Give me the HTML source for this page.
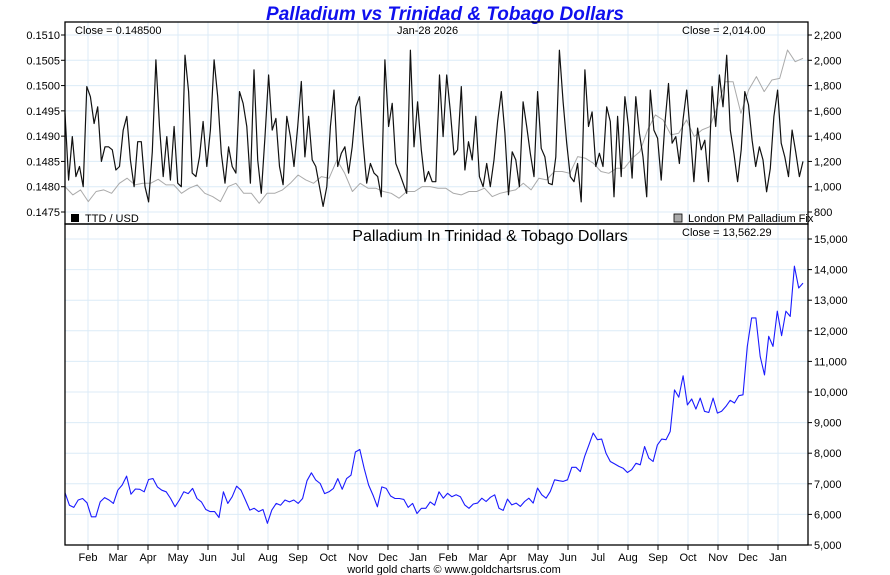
<!DOCTYPE html>
<html><head><meta charset="utf-8">
<style>
html,body{margin:0;padding:0;background:#fff;}
svg{display:block;font-family:"Liberation Sans",Arial,sans-serif;}
</style></head>
<body>
<svg id="chart" width="890" height="575" viewBox="0 0 890 575">
<text x="445" y="20" text-anchor="middle" font-size="19" font-weight="bold" font-style="italic" fill="#1010ee">Palladium vs Trinidad &amp; Tobago Dollars</text>
<g id="grid"></g>
<g id="series"></g>
<g id="axes"></g>
<text x="75" y="34" font-size="11" fill="#000">Close = 0.148500</text>
<text x="397" y="34" font-size="11" fill="#000">Jan-28  2026</text>
<text x="682" y="34" font-size="11" fill="#000">Close = 2,014.00</text>
<rect x="71" y="214" width="8" height="8" fill="#000"/>
<text x="85" y="222" font-size="11">TTD / USD</text>
<rect x="674" y="214" width="8" height="8" fill="#aaa" stroke="#000" stroke-width="0.8"/>
<text x="688" y="222" font-size="11">London PM Palladium Fix</text>
<text x="490" y="241" text-anchor="middle" font-size="16">Palladium In Trinidad &amp; Tobago Dollars</text>
<text x="682" y="236" font-size="11">Close = 13,562.29</text>
<text x="454" y="573" text-anchor="middle" font-size="11">world gold charts © www.goldchartsrus.com</text>
</svg>
<script>
const months = ["Feb","Mar","Apr","May","Jun","Jul","Aug","Sep","Oct","Nov","Dec","Jan","Feb","Mar","Apr","May","Jun","Jul","Aug","Sep","Oct","Nov","Dec","Jan"];
const ttdTicks = [0.1475,0.1480,0.1485,0.1490,0.1495,0.1500,0.1505,0.1510];
const pallTicks = [800,1000,1200,1400,1600,1800,2000,2200];
const lowerTicks = [5000,6000,7000,8000,9000,10000,11000,12000,13000,14000,15000];
const ttdValues = [0.14945,0.14813,0.14899,0.14820,0.14840,0.14800,0.14998,0.14978,0.14925,0.14958,0.14850,0.14879,0.14879,0.14873,0.14833,0.14840,0.14912,0.14939,0.14853,0.14800,0.14889,0.14889,0.14800,0.14770,0.14869,0.15051,0.14919,0.14820,0.14899,0.14813,0.14919,0.14807,0.14800,0.15060,0.14988,0.14827,0.14820,0.14859,0.14929,0.14840,0.14912,0.15051,0.14978,0.14866,0.14807,0.14879,0.14840,0.14827,0.14988,0.14965,0.14919,0.14807,0.15031,0.14853,0.14787,0.14899,0.15021,0.14912,0.14935,0.14840,0.14804,0.14939,0.14899,0.14840,0.14919,0.15008,0.14859,0.14939,0.14853,0.14840,0.14800,0.14761,0.14800,0.14919,0.14991,0.14840,0.14866,0.14879,0.14827,0.14879,0.14958,0.14978,0.14886,0.14807,0.14846,0.14827,0.14820,0.14780,0.15051,0.14919,0.14965,0.14846,0.14827,0.14807,0.14787,0.15070,0.14879,0.14968,0.14873,0.14810,0.14830,0.14810,
0.14810,0.15021,0.14899,0.15021,0.14948,0.14863,0.14873,0.14998,0.14833,0.14889,0.14853,0.14939,0.14820,0.14800,0.14846,0.14800,0.14853,0.14929,0.14988,0.14906,0.14784,0.14869,0.14853,0.14800,0.14968,0.14919,0.14866,0.14820,0.14988,0.14876,0.14859,0.14807,0.14804,0.14859,0.15070,0.14968,0.14886,0.14820,0.14810,0.14846,0.14770,0.15031,0.14919,0.14948,0.14840,0.14866,0.14840,0.14958,0.14929,0.14780,0.14939,0.14820,0.14978,0.14919,0.14817,0.14978,0.14906,0.14859,0.14780,0.14991,0.14912,0.14896,0.14813,0.14925,0.15004,0.14886,0.14899,0.14846,0.14932,0.14991,0.14906,0.14810,0.14916,0.14873,0.14892,0.14810,0.14998,0.14919,0.15021,0.14958,0.15060,0.14912,0.14866,0.14810,0.14873,0.14988,0.14962,0.14892,0.14840,0.14879,0.14853,0.14790,0.14836,0.14939,0.14991,0.14886,0.14859,0.14820,0.14912,0.14869,0.14820,0.14850];
const pallValues = [1001,935,975,882,962,975,948,1027,1067,1014,1027,1027,1059,1014,1014,948,988,1014,948,922,882,1001,1027,948,948,869,948,948,975,1027,1093,1054,1027,1080,1067,1212,1106,962,1027,988,988,962,948,909,962,962,1001,
1001,988,988,948,935,962,962,988,922,948,962,975,1027,975,1067,1054,1120,1120,1106,1238,1225,1186,1120,1106,1146,1146,1225,1278,1449,1568,1528,1410,1423,1528,1396,1449,1475,1634,1831,1831,1581,1765,1871,1752,1844,1857,2081,1989,2016];
const lowerYear1 = [6710,6300,6230,6470,6520,6380,5920,5920,6410,6550,6470,6360,6790,6960,7250,6660,6830,6820,6740,7140,7170,6900,6790,6740,6520,6250,6470,6740,6680,6850,6520,6410,6160,6090,6090,5900,6740,6360,6580,6920,6790,6470,6140,6200,6090,6160,5710,6140,6360,6300,6470,6410,6470,6360,6520,7100,7360,7120,7010,6680,6740,6850,7170,6820,7170,7280,8040,8120,7500,6960,6630,6250,6900,6850,6600,6520,6520,6490,6230,6360,6030,6200,6200,6410,6300,6740];
const lowerYear2 = [6530,6690,6580,6640,6580,6310,6200,6340,6370,6530,6420,6560,6640,6200,6130,6500,6310,6370,6260,6420,6530,6370,6860,6640,6530,6750,7130,7100,7080,7130,7540,7540,7400,7890,8270,8660,8440,8460,8000,7730,7650,7570,7510,7370,7460,7670,7620,8220,7840,7730,8270,8460,8440,8710,10070,9830,10530,9580,9770,9440,9800,9370,9330,9800,9310,9370,9530,9730,9640,9880,9910,11490,12420,12420,11160,10560,11820,11490,12640,11840,12640,12470,14110,13400,13560];

const NS='http://www.w3.org/2000/svg';
const L=65,R=808,T=22,MID=224,B=545,X0=65,X1=803,XSPLIT=439;
const yTop=v=>35+(0.1510-v)/0.0035*177;
const yPall=v=>35+(2200-v)/1400*177;
const yLow=v=>239+(15000-v)/10000*306;
const xIdx=(i,n,a,b)=>a+i*(b-a)/(n-1);
const xMonth=i=>88+i*30;
function mk(tag,attrs,parent){const e=document.createElementNS(NS,tag);for(const k in attrs)e.setAttribute(k,attrs[k]);parent.appendChild(e);return e;}
const grid=document.getElementById('grid'),axes=document.getElementById('axes'),ser=document.getElementById('series');
const gc='#dcebf7';
months.forEach((m,i)=>{
  const x=xMonth(i);
  const g=mk('line',{x1:x,x2:x,y1:T,y2:B,stroke:gc,'stroke-width':1},grid);
  
  
  const t=mk('line',{x1:x,x2:x,y1:B,y2:B+5,stroke:'#000','stroke-width':1},axes);
  
  
  const lb=mk('text',{x:x,y:561,'text-anchor':'middle','font-size':11},axes);
  lb.textContent=m;
  
  
});
ttdTicks.forEach(v=>{
  const y=yTop(v);
  const g=mk('line',{x1:L,x2:R,y1:y,y2:y,stroke:gc,'stroke-width':1},grid);
  
  
  mk('line',{x1:L-4,x2:L,y1:y,y2:y,stroke:'#000'},axes);
  const t=mk('text',{x:L-5,y:y+4,'text-anchor':'end','font-size':11},axes);
  t.textContent=v.toFixed(4);
  
  
});
pallTicks.forEach(v=>{
  const y=yPall(v);
  mk('line',{x1:R,x2:R+4,y1:y,y2:y,stroke:'#000'},axes);
  const t=mk('text',{x:R+6,y:y+4,'font-size':11},axes);
  t.textContent=v.toLocaleString('en-US');
  
  
});
lowerTicks.forEach(v=>{
  const y=yLow(v);
  const g=mk('line',{x1:L,x2:R,y1:y,y2:y,stroke:gc,'stroke-width':1},grid);
  
  
  mk('line',{x1:R,x2:R+4,y1:y,y2:y,stroke:'#000'},axes);
  const t=mk('text',{x:R+6,y:y+4,'font-size':11},axes);
  t.textContent=v.toLocaleString('en-US');
  
  
});
const fr1=mk('rect',{x:L,y:T,width:R-L,height:MID-T,fill:'none',stroke:'#000','stroke-width':1.3},axes);


const fr2=mk('rect',{x:L,y:MID,width:R-L,height:B-MID,fill:'none',stroke:'#000','stroke-width':1.3},axes);


function pts(vals,yf,a,b){return vals.map((v,i)=>[xIdx(i,vals.length,a,b),yf(v)]);}
function line(points,color,w,name){
  const d=points.map((p,i)=>(i?'L':'M')+p[0].toFixed(1)+' '+p[1].toFixed(1)).join(' ');
  const p=mk('path',{d:d,fill:'none',stroke:color,'stroke-width':w,'stroke-linejoin':'round'},ser);
  
  
}
line(pts(pallValues,yPall,X0,X1),'#aaaaaa',1,'palladium-usd-line');
line(pts(ttdValues,yTop,X0,X1),'#111111',1.2,'ttd-usd-line');
const step2=(X1-XSPLIT)/lowerYear2.length;
line(pts(lowerYear1,yLow,X0,XSPLIT).concat(pts(lowerYear2,yLow,XSPLIT+step2,X1)),'#1a1aff',1.1,'palladium-ttd-line');
</script>
</body></html>
